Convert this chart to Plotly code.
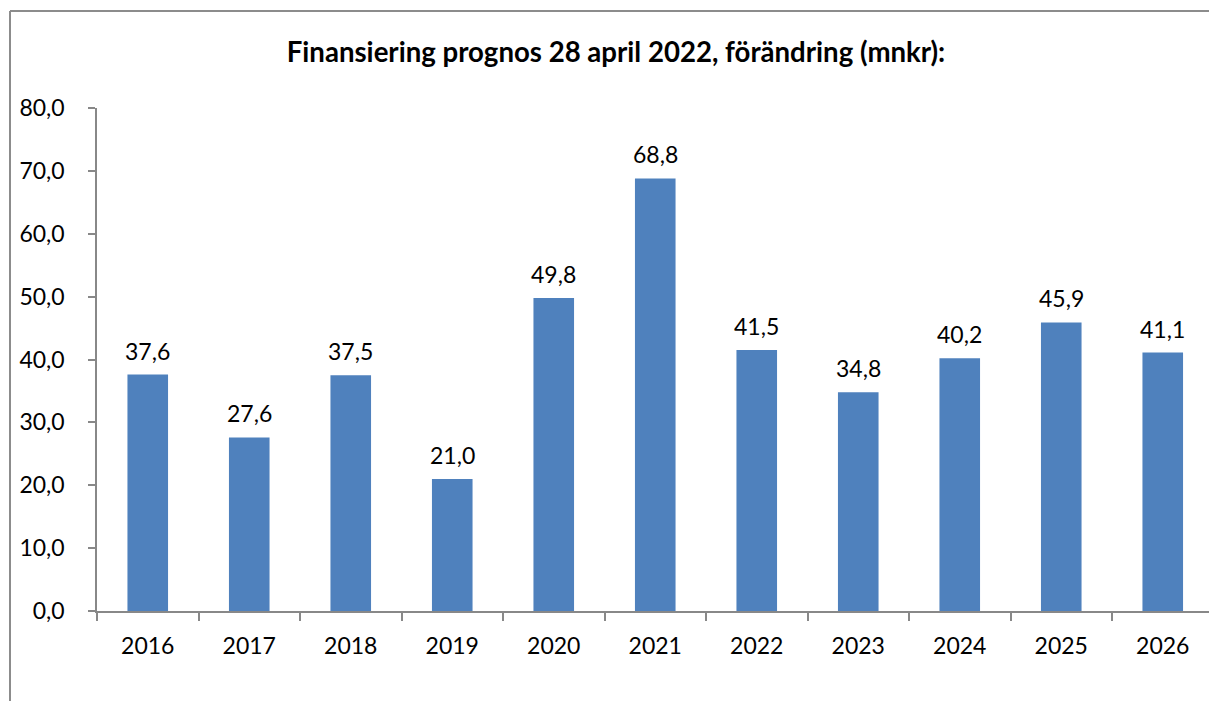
import plotly.graph_objects as go

years = ["2016", "2017", "2018", "2019", "2020", "2021", "2022", "2023", "2024", "2025", "2026"]
values = [37.6, 27.6, 37.5, 21.0, 49.8, 68.8, 41.5, 34.8, 40.2, 45.9, 41.1]
title_text = "Finansiering prognos 28 april 2022, förändring (mnkr):"

W, H = 1209, 701
L, R, T, B = 97, 0, 108, 90
plot_w = W - L - R
plot_h = H - T - B

fig = go.Figure()
fig.add_trace(go.Bar(x=years, y=values, width=0.4, marker=dict(color="#4F81BD", line=dict(width=0)),
                     hoverinfo="skip"))

for i, v in enumerate(values):
    fig.add_annotation(x=i, y=v, xref="x", yref="y", text=f"{v:.1f}".replace(".", ","), showarrow=False,
                       yanchor="bottom", yshift=8, font=dict(family="Lato", size=23, color="#000000"))

axis_col = "#888888"
fig.update_layout(
    width=W, height=H,
    margin=dict(l=L, r=R, t=T, b=B, pad=0),
    paper_bgcolor="white", plot_bgcolor="white",
    separators=", ",
    showlegend=False,
    title=dict(text=f"<b>{title_text}</b>", x=616 / W, xanchor="center", xref="container",
               y=1 - 52 / H, yanchor="middle", yref="container",
               font=dict(family="Lato", size=27.6, color="#000000")),
    font=dict(family="Lato", size=23, color="#000000"),
    xaxis=dict(type="category", range=[-0.5, 10.5 - (L + 11 * 101.5 - W) / 101.5],
               showline=True, linecolor=axis_col, linewidth=1.5,
               ticks="outside", tickson="boundaries", ticklen=8, tickcolor=axis_col, tickwidth=1.5,
               ticklabelstandoff=14,
               showgrid=False, zeroline=False, tickfont=dict(family="Lato", size=23, color="#000000")),
    yaxis=dict(range=[0, 80], dtick=10, tickformat=".1f",
               showline=True, linecolor=axis_col, linewidth=1.5,
               ticks="outside", ticklen=7, tickcolor=axis_col, tickwidth=1.5,
               ticklabelstandoff=19,
               showgrid=False, zeroline=False, tickfont=dict(family="Lato", size=23, color="#000000")),
)

# chart-area border (left and top visible in the reference)
bx = (10 - L) / plot_w
by = (H - B - 11) / plot_h
fig.add_shape(type="line", xref="paper", yref="paper", x0=bx, x1=bx, y0=by, y1=-0.5,
              line=dict(color="#8c8c8c", width=2))
fig.add_shape(type="line", xref="paper", yref="paper", x0=bx, x1=1.2, y0=by, y1=by,
              line=dict(color="#8c8c8c", width=2))

fig.write_html("out.html", config={"displayModeBar": False},
               post_script="document.body.style.margin='0';document.body.style.overflow='hidden';")
